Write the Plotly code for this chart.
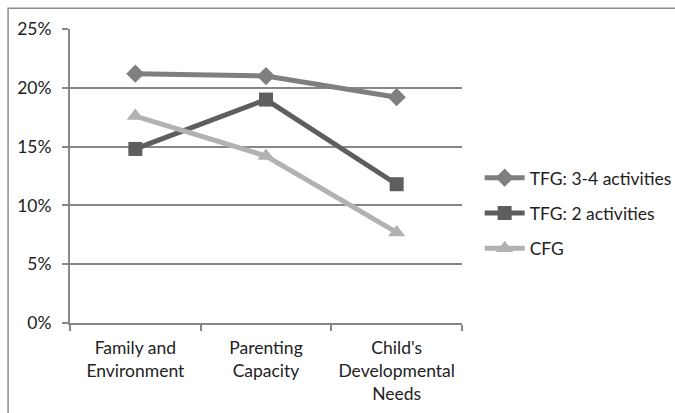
import plotly.graph_objects as go

categories = ["Family and<br>Environment", "Parenting<br>Capacity", "Child's<br>Developmental<br>Needs"]
series_names = ["TFG: 3-4 activities", "TFG: 2 activities", "CFG"]
tfg_34 = [0.212, 0.210, 0.192]
tfg_2 = [0.148, 0.190, 0.118]
cfg = [0.176, 0.142, 0.077]
y_ticks = [0, 0.05, 0.10, 0.15, 0.20, 0.25]

colors = ["#7f7f7f", "#5e5e5e", "#b2b2b2"]
symbols = ["diamond", "square", "triangle-up"]
sizes = [14, 14, 15]

fig = go.Figure()
for i, (name, vals) in enumerate(zip(series_names, [tfg_34, tfg_2, cfg])):
    fig.add_trace(go.Scatter(
        x=categories, y=vals, name=name, mode="lines+markers",
        line=dict(color=colors[i], width=5),
        marker=dict(symbol=symbols[i], size=sizes[i], color=colors[i]),
        legendgroup=f"g{i}",
    ))

grid_color = "#878787"
fs = 17.5
fig.update_layout(
    width=675, height=413,
    margin=dict(l=70, r=213, t=29, b=90, autoexpand=False),
    paper_bgcolor="white", plot_bgcolor="white",
    font=dict(family="Lato, Liberation Sans, sans-serif", size=fs, color="#222"),
    showlegend=True,
    legend=dict(
        x=1.045, xanchor="left", y=0.555, yanchor="top",
        traceorder="grouped", tracegroupgap=9.5,
        font=dict(size=fs, color="#222"),
        bgcolor="rgba(0,0,0,0)",
        itemwidth=40,
    ),
    xaxis=dict(
        type="category", range=[-0.5, 2.5], tickangle=0, automargin=False,
        showline=True, linecolor=grid_color, linewidth=2,
        ticks="outside", tickson="boundaries", ticklen=6, tickwidth=2, tickcolor=grid_color,
        showgrid=False, tickfont=dict(size=fs), ticklabelstandoff=8,
    ),
    yaxis=dict(
        range=[0, 0.25], tickvals=y_ticks, tickformat=".0%", automargin=False,
        showline=True, linecolor=grid_color, linewidth=2,
        ticks="outside", ticklen=6, tickwidth=2, tickcolor=grid_color,
        showgrid=True, gridcolor=grid_color, gridwidth=2,
        zeroline=False, tickfont=dict(size=fs), ticklabelstandoff=7,
    ),
    shapes=[dict(
        type="rect", xref="paper", yref="paper",
        x0=-0.158, x1=1.7, y0=-0.5, y1=1.071,
        line=dict(color="#8c8c8c", width=1.5), fillcolor="rgba(0,0,0,0)", layer="below",
    )],
)

fig.write_html("out.html")
